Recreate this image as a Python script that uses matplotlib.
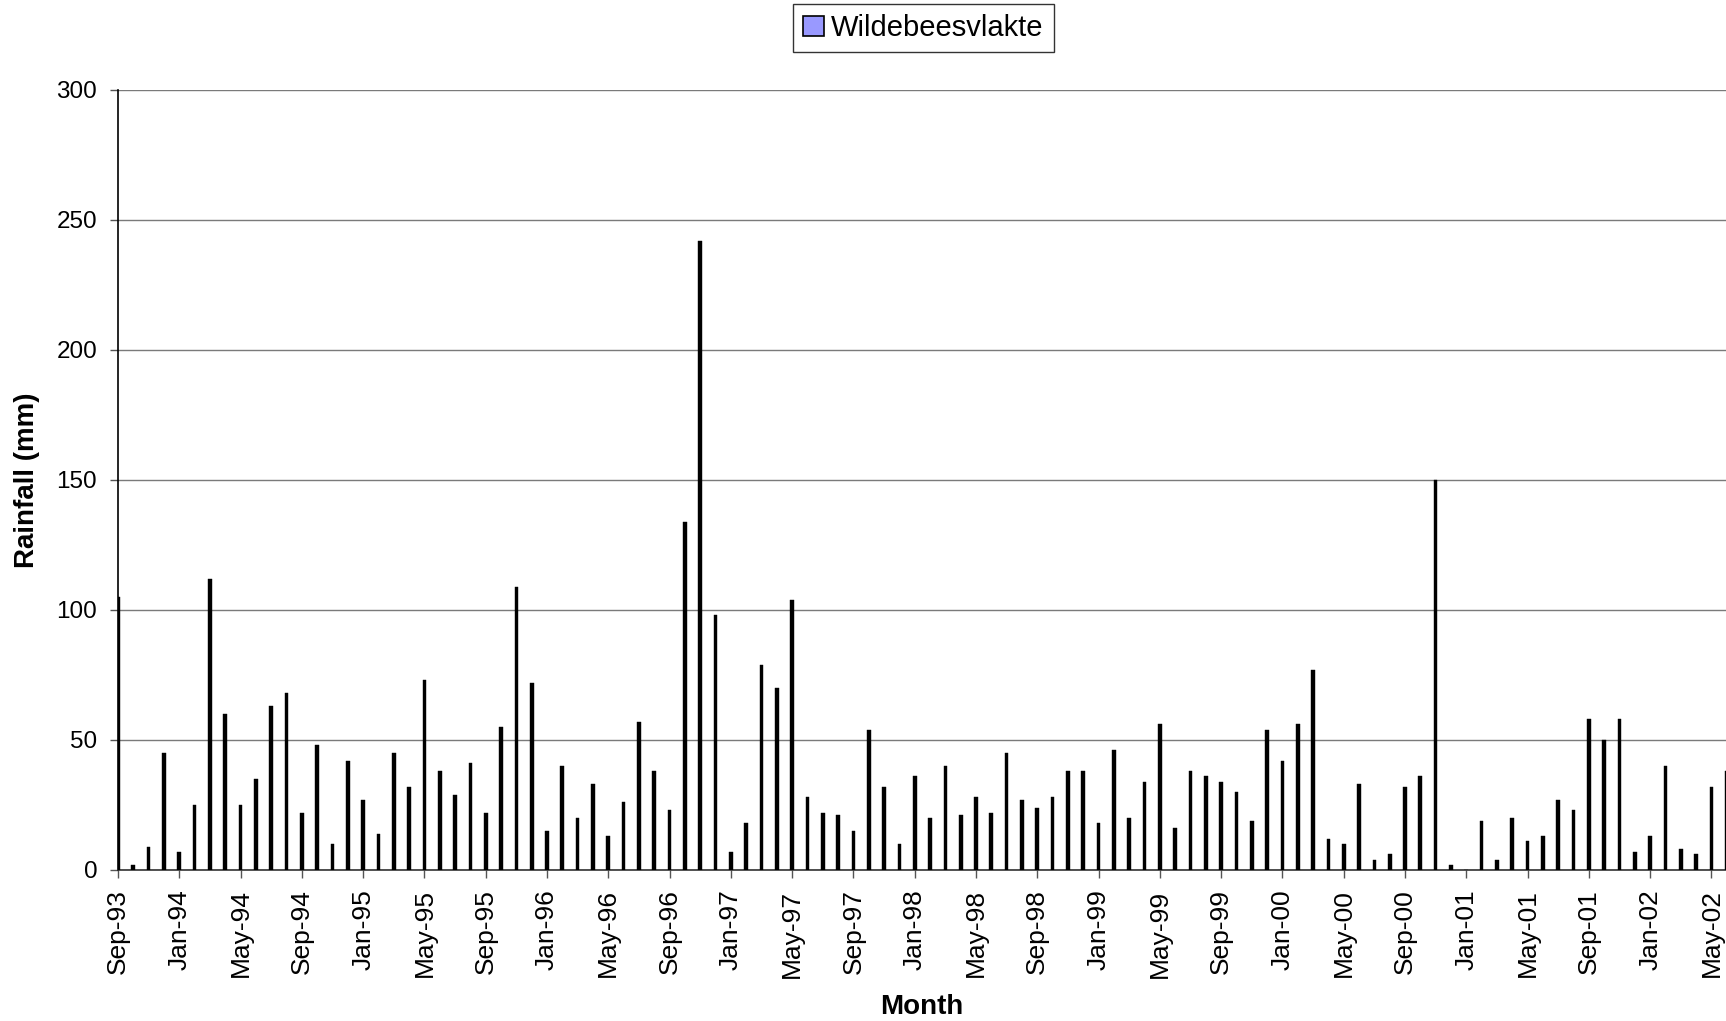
import numpy as np
import pandas as pd
import matplotlib
matplotlib.use("Agg")
import matplotlib.pyplot as plt
from matplotlib.patches import Patch

plt.rcParams['font.family'] = ['Liberation Sans', 'DejaVu Sans']

# monthly rainfall, Sep-93 .. Jun-02
rain_1993 = [105, 2, 9, 45]
rain_1994 = [7, 25, 112, 60, 25, 35, 63, 68, 22, 48, 10, 42]
rain_1995 = [27, 14, 45, 32, 73, 38, 29, 41, 22, 55, 109, 72]
rain_1996 = [15, 40, 20, 33, 13, 26, 57, 38, 23, 134, 242, 98]
rain_1997 = [7, 18, 79, 70, 104, 28, 22, 21, 15, 54, 32, 10]
rain_1998 = [36, 20, 40, 21, 28, 22, 45, 27, 24, 28, 38, 38]
rain_1999 = [18, 46, 20, 34, 56, 16, 38, 36, 34, 30, 19, 54]
rain_2000 = [42, 56, 77, 12, 10, 33, 4, 6, 32, 36, 150, 2]
rain_2001 = [0, 19, 4, 20, 11, 13, 27, 23, 58, 50, 58, 7]
rain_2002 = [13, 40, 8, 6, 32, 38]

rainfall = (rain_1993 + rain_1994 + rain_1995 + rain_1996 + rain_1997 +
            rain_1998 + rain_1999 + rain_2000 + rain_2001 + rain_2002)
months = pd.date_range("1993-09-01", periods=len(rainfall), freq="MS")
month_labels = [m.strftime("%b-%y") for m in months]

fig = plt.figure(figsize=(17.26, 10.21), dpi=100)
ax = fig.add_axes([118 / 1726, 1 - 870 / 1021, 1 - 118 / 1726, 780 / 1021])

x = np.arange(len(rainfall))
ax.bar(x, rainfall, width=0.24, color='black', edgecolor='black', linewidth=0.3, zorder=3)

ax.set_ylim(0, 300)
ax.set_yticks(np.arange(0, 301, 50))
ax.set_xlim(0, 104.95)
ax.set_xticks(x[::4])
ax.set_xticklabels(month_labels[::4], rotation=90)

ax.grid(axis='y', color='#7a7a7a', linewidth=1.0, zorder=0)
ax.tick_params(axis='y', labelsize=17.5, direction='out', length=6, width=1, color='#555555', pad=9)
ax.tick_params(axis='x', labelsize=19, direction='out', length=6, width=1, color='#555555', pad=8)

for side in ['top', 'right']:
    ax.spines[side].set_visible(False)
ax.spines['left'].set_linewidth(1.2)
ax.spines['bottom'].set_linewidth(1.2)
ax.spines['bottom'].set_color('#333333')

ax.set_ylabel('Rainfall (mm)', fontsize=20, fontweight='bold', labelpad=12)
ax.set_xlabel('Month', fontsize=20, fontweight='bold', labelpad=12)

handles = [Patch(facecolor='#9999ff', edgecolor='black', linewidth=1.2)]
fig.legend(handles, ['Wildebeesvlakte'], loc='center', bbox_to_anchor=(0.535, 0.9726),
           fontsize=21, frameon=True, fancybox=False, edgecolor='black',
           handlelength=0.7, handleheight=0.7, handletextpad=0.25, borderpad=0.35,
           borderaxespad=0)

fig.savefig("out.png", dpi=100)
